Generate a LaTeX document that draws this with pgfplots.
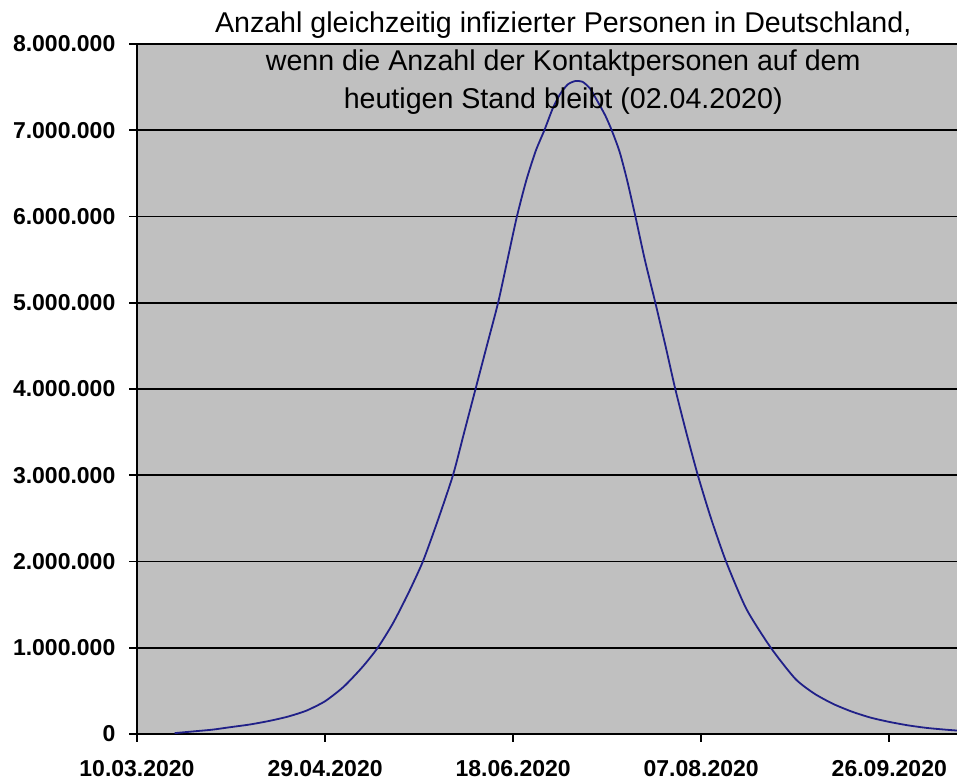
\documentclass[border=0pt]{standalone}
\usepackage{fontspec}
\setmainfont{Liberation Sans}
\usepackage{pgfplots}
\pgfplotsset{compat=1.18}
\definecolor{plotgray}{HTML}{C0C0C0}
\definecolor{curvecol}{HTML}{202088}
\begin{document}
\begin{tikzpicture}
\begin{axis}[name=ax, width=410pt, height=345pt, scale only axis,
  xmin=0, xmax=218, ymin=0, ymax=8000000,
  axis x line=bottom, axis y line=left, axis line style={-, black, line width=0.85pt},
  axis background/.style={fill=plotgray},
  xtick={0,50,100,150,200},
  xticklabels={10.03.2020,29.04.2020,18.06.2020,07.08.2020,26.09.2020},
  ytick={0,1000000,2000000,3000000,4000000,5000000,6000000,7000000,8000000},
  yticklabels={0,1.000.000,2.000.000,3.000.000,4.000.000,5.000.000,6.000.000,7.000.000,8.000.000},
  scaled y ticks=false,
  ymajorgrids, grid style={black, line width=0.85pt},
  tick align=outside, major tick length=3.8pt,
  tick style={black, line width=0.85pt},
  ticklabel style={font=\fontsize{11.5}{12}\selectfont\bfseries},
  xticklabel style={yshift=-6pt},
  yticklabel style={xshift=-3.5pt},
]
\addplot[curvecol, line width=0.9pt, smooth, tension=0.4] table[x=day, y=n] {
day n
10 10000
15 30000
20 50000
25 80000
30 110000
35 150000
40 200000
45 270000
50 380000
55 550000
60 780000
64 1000000
68 1280000
72 1620000
76 2000000
80 2480000
84 3000000
87 3500000
90 4000000
93 4500000
96 5000000
98.5 5500000
101 6000000
103.5 6420000
106 6760000
108.3 7000000
110.5 7250000
112.5 7420000
114.5 7530000
116.5 7570000
118.5 7560000
120.5 7480000
122.5 7330000
124.5 7170000
126.2 7000000
128.3 6750000
130.3 6420000
132.5 6000000
135 5500000
137.8 5000000
140.5 4500000
143.1 4000000
146 3500000
149.1 3000000
152.6 2500000
156.6 2000000
162 1450000
168.5 1000000
175 640000
180 470000
185 350000
190 260000
195 190000
200 140000
205 100000
210 70000
215 50000
218 40000
};
\end{axis}
\node[anchor=north, align=center, inner sep=0pt, font=\fontsize{14.3}{19}\selectfont]
  at ([xshift=213.1pt, yshift=16.5pt]ax.north west)
  {Anzahl gleichzeitig infizierter Personen in Deutschland,\\
   wenn die Anzahl der Kontaktpersonen auf dem\\
   heutigen Stand bleibt (02.04.2020)};
\pgfresetboundingbox
\path ([xshift=-68.5pt, yshift=-24pt]ax.south west) rectangle ([yshift=22pt]ax.north east);
\end{tikzpicture}
\end{document}
